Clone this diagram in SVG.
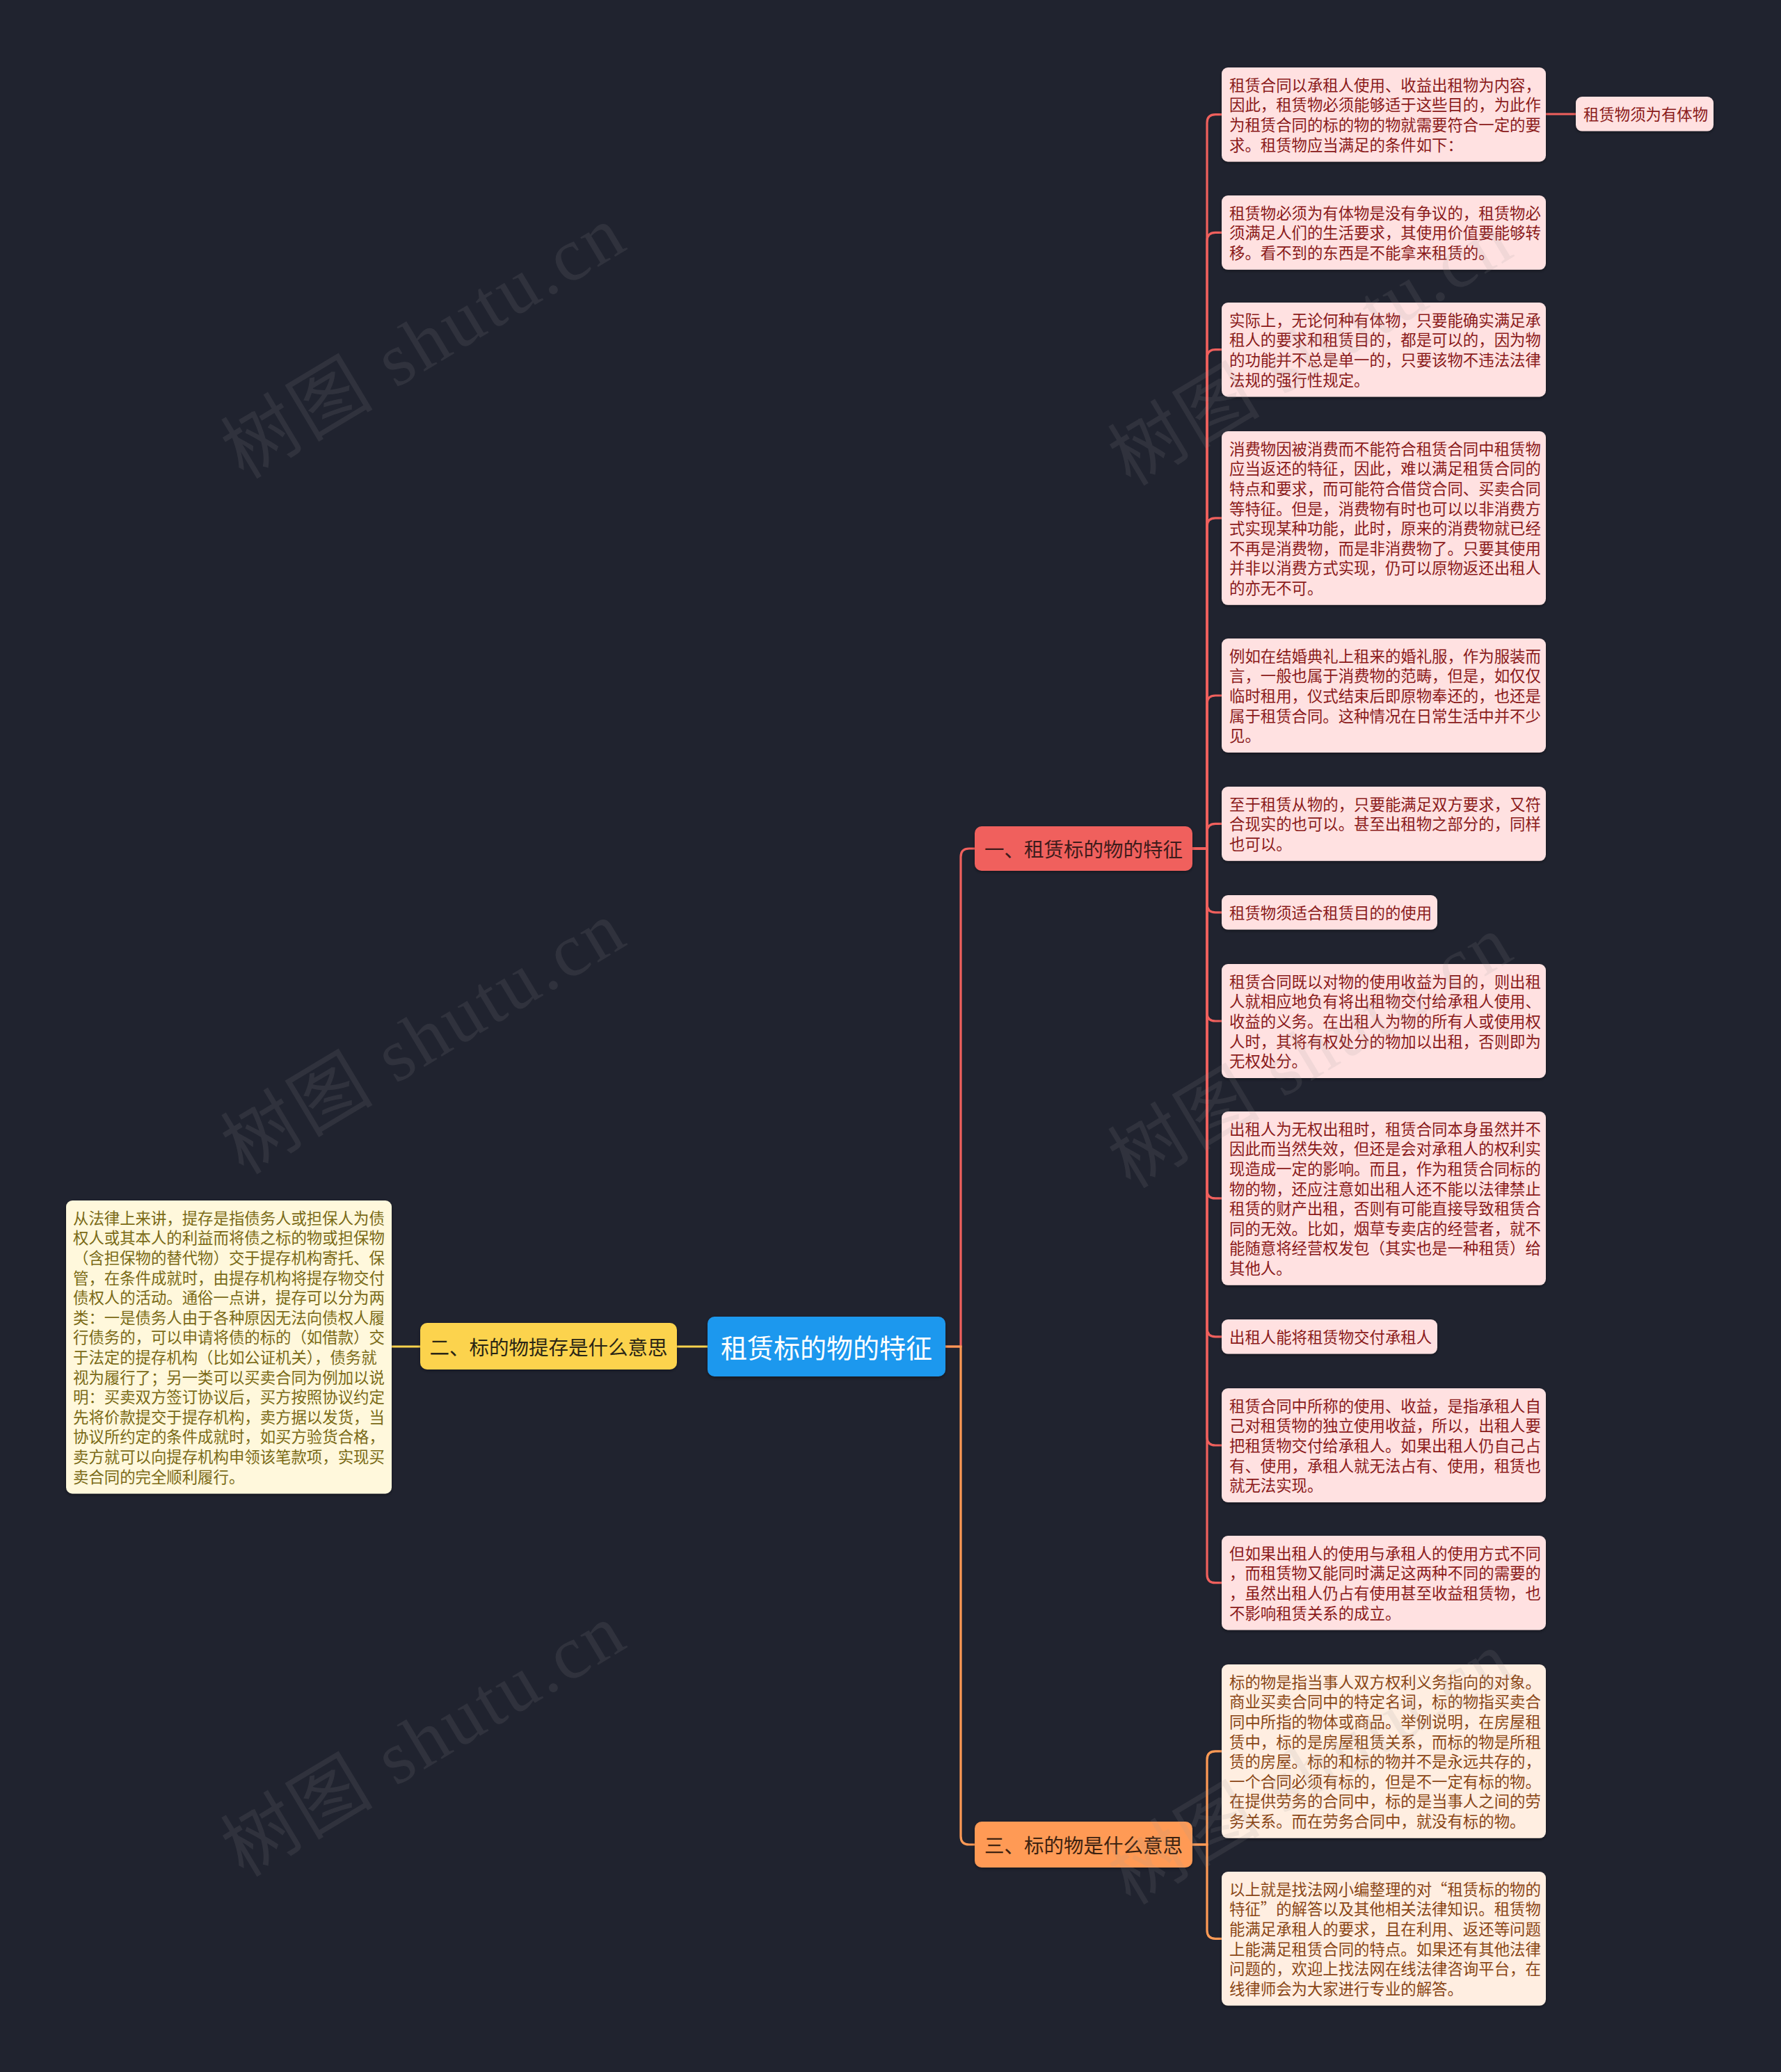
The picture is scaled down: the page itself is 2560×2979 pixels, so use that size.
<svg xmlns="http://www.w3.org/2000/svg" width="2560" height="2979" viewBox="0 0 2560 2979">
<defs>
<filter id="sh" x="-5%" y="-5%" width="110%" height="120%">
<feDropShadow dx="0" dy="2" stdDeviation="2" flood-color="#000" flood-opacity="0.35"/>
</filter>
<style>
text{font-family:"Noto Sans CJK SC","Noto Sans",sans-serif;dominant-baseline:central}
.leaf text{font-size:22.4px}
.r rect{fill:#FFE1E1}
.r text{fill:#8A1A1A}
.y rect{fill:#FFF8DC}
.y text{fill:#7A6A16}
.o rect{fill:#FFEEE1}
.o text{fill:#8A4616}
.br text{font-size:28.5px;text-anchor:middle}
.c{fill:none;stroke-width:3.2;stroke-linecap:round}
.cr{stroke:#F0605D}
.cy{stroke:#FCD34D}
.co{stroke:#FF9A55}
.wm{font-family:"Liberation Serif","Noto Sans CJK SC",serif;font-size:108px;letter-spacing:4px;fill:#9a9a9a;opacity:0.13;dominant-baseline:alphabetic}
</style>
</defs>
<rect width="2560" height="2979" fill="#20232F"/>

<g id="connectors">
<path class="c cr" d="M1359 1936 H1381 V1232 Q1381 1220 1393 1220 H1401"/>
<path class="c co" d="M1359 1936 H1381 V2640 Q1381 2652 1393 2652 H1401"/>
<path class="c cy" d="M1017 1936 H973"/>
<path class="c cy" d="M604 1936 H563"/>
<path class="c cr" d="M1714 1220 H1735 V176.7 Q1735 164.7 1747 164.7 H1756"/>
<path class="c cr" d="M1714 1220 H1735 V346.4 Q1735 334.4 1747 334.4 H1756"/>
<path class="c cr" d="M1714 1220 H1735 V514.7 Q1735 502.7 1747 502.7 H1756"/>
<path class="c cr" d="M1714 1220 H1735 V756.9 Q1735 744.9 1747 744.9 H1756"/>
<path class="c cr" d="M1714 1220 H1735 V1012 Q1735 1000 1747 1000 H1756"/>
<path class="c cr" d="M1714 1220 H1735 V1196.4 Q1735 1184.4 1747 1184.4 H1756"/>
<path class="c cr" d="M1714 1220 H1735 V1299.8 Q1735 1311.8 1747 1311.8 H1756"/>
<path class="c cr" d="M1714 1220 H1735 V1456 Q1735 1468 1747 1468 H1756"/>
<path class="c cr" d="M1714 1220 H1735 V1710.9 Q1735 1722.9 1747 1722.9 H1756"/>
<path class="c cr" d="M1714 1220 H1735 V1909.8 Q1735 1921.8 1747 1921.8 H1756"/>
<path class="c cr" d="M1714 1220 H1735 V2066 Q1735 2078 1747 2078 H1756"/>
<path class="c cr" d="M1714 1220 H1735 V2263.7 Q1735 2275.7 1747 2275.7 H1756"/>
<path class="c cr" d="M2222 164 H2265"/>
<path class="c co" d="M1714 2652 H1735 V2529.9 Q1735 2517.9 1747 2517.9 H1756"/>
<path class="c co" d="M1714 2652 H1735 V2775.3 Q1735 2787.3 1747 2787.3 H1756"/>
</g>

<g id="center">
<rect x="1017" y="1893" width="342" height="86" rx="10" fill="#1D98EE" filter="url(#sh)"/>
<text x="1188" y="1935" font-size="38" fill="#FFFFFF" text-anchor="middle">租赁标的物的特征</text>
</g>

<g id="branch1" class="br">
<rect x="1401" y="1188" width="313" height="64" rx="10" fill="#F0605D" filter="url(#sh)"/>
<text x="1557.5" y="1219" fill="#3E1B1B">一、租赁标的物的特征</text>
</g>
<g id="branch2" class="br">
<rect x="604" y="1902" width="369" height="67" rx="10" fill="#FCD34D" filter="url(#sh)"/>
<text x="788.5" y="1935" fill="#2A2615">二、标的物提存是什么意思</text>
</g>
<g id="branch3" class="br">
<rect x="1401" y="2619" width="313" height="66" rx="10" fill="#FF9A55" filter="url(#sh)"/>
<text x="1557.5" y="2651" fill="#3D2210">三、标的物是什么意思</text>
</g>

<g id="leaf-left" class="leaf y">
<rect x="95" y="1726" width="468" height="421.4" rx="9" filter="url(#sh)"/>
<text><tspan x="105" y="1749.8">从法律上来讲，提存是指债务人或担保人为债</tspan><tspan x="105" y="1778.4">权人或其本人的利益而将债之标的物或担保物</tspan><tspan x="105" y="1807">（含担保物的替代物）交于提存机构寄托、保</tspan><tspan x="105" y="1835.6">管，在条件成就时，由提存机构将提存物交付</tspan><tspan x="105" y="1864.2">债权人的活动。通俗一点讲，提存可以分为两</tspan><tspan x="105" y="1892.8">类：一是债务人由于各种原因无法向债权人履</tspan><tspan x="105" y="1921.4">行债务的，可以申请将债的标的（如借款）交</tspan><tspan x="105" y="1950">于法定的提存机构（比如公证机关），债务就</tspan><tspan x="105" y="1978.6">视为履行了；另一类可以买卖合同为例加以说</tspan><tspan x="105" y="2007.2">明：买卖双方签订协议后，买方按照协议约定</tspan><tspan x="105" y="2035.8">先将价款提交于提存机构，卖方据以发货，当</tspan><tspan x="105" y="2064.4">协议所约定的条件成就时，如买方验货合格，</tspan><tspan x="105" y="2093">卖方就可以向提存机构申领该笔款项，实现买</tspan><tspan x="105" y="2121.6">卖合同的完全顺利履行。</tspan></text>
</g>

<g id="leaf-r1" class="leaf r">
<rect x="1756" y="97" width="466" height="135.4" rx="9" filter="url(#sh)"/>
<text><tspan x="1767" y="120.8">租赁合同以承租人使用、收益出租物为内容，</tspan><tspan x="1767" y="149.4">因此，租赁物必须能够适于这些目的，为此作</tspan><tspan x="1767" y="178">为租赁合同的标的物的物就需要符合一定的要</tspan><tspan x="1767" y="206.6">求。租赁物应当满足的条件如下：</tspan></text>
</g>
<g id="leaf-r1a" class="leaf r">
<rect x="2265" y="139" width="198" height="49.6" rx="9" filter="url(#sh)"/>
<text x="2276" y="162.8">租赁物须为有体物</text>
</g>
<g id="leaf-r2" class="leaf r">
<rect x="1756" y="281" width="466" height="106.8" rx="9" filter="url(#sh)"/>
<text><tspan x="1767" y="304.8">租赁物必须为有体物是没有争议的，租赁物必</tspan><tspan x="1767" y="333.4">须满足人们的生活要求，其使用价值要能够转</tspan><tspan x="1767" y="362">移。看不到的东西是不能拿来租赁的。</tspan></text>
</g>
<g id="leaf-r3" class="leaf r">
<rect x="1756" y="435" width="466" height="135.4" rx="9" filter="url(#sh)"/>
<text><tspan x="1767" y="458.8">实际上，无论何种有体物，只要能确实满足承</tspan><tspan x="1767" y="487.4">租人的要求和租赁目的，都是可以的，因为物</tspan><tspan x="1767" y="516">的功能并不总是单一的，只要该物不违法法律</tspan><tspan x="1767" y="544.6">法规的强行性规定。</tspan></text>
</g>
<g id="leaf-r4" class="leaf r">
<rect x="1756" y="620" width="466" height="249.8" rx="9" filter="url(#sh)"/>
<text><tspan x="1767" y="643.8">消费物因被消费而不能符合租赁合同中租赁物</tspan><tspan x="1767" y="672.4">应当返还的特征，因此，难以满足租赁合同的</tspan><tspan x="1767" y="701">特点和要求，而可能符合借贷合同、买卖合同</tspan><tspan x="1767" y="729.6">等特征。但是，消费物有时也可以以非消费方</tspan><tspan x="1767" y="758.2">式实现某种功能，此时，原来的消费物就已经</tspan><tspan x="1767" y="786.8">不再是消费物，而是非消费物了。只要其使用</tspan><tspan x="1767" y="815.4">并非以消费方式实现，仍可以原物返还出租人</tspan><tspan x="1767" y="844">的亦无不可。</tspan></text>
</g>
<g id="leaf-r5" class="leaf r">
<rect x="1756" y="918" width="466" height="164" rx="9" filter="url(#sh)"/>
<text><tspan x="1767" y="941.8">例如在结婚典礼上租来的婚礼服，作为服装而</tspan><tspan x="1767" y="970.4">言，一般也属于消费物的范畴，但是，如仅仅</tspan><tspan x="1767" y="999">临时租用，仪式结束后即原物奉还的，也还是</tspan><tspan x="1767" y="1027.6">属于租赁合同。这种情况在日常生活中并不少</tspan><tspan x="1767" y="1056.2">见。</tspan></text>
</g>
<g id="leaf-r6" class="leaf r">
<rect x="1756" y="1131" width="466" height="106.8" rx="9" filter="url(#sh)"/>
<text><tspan x="1767" y="1154.8">至于租赁从物的，只要能满足双方要求，又符</tspan><tspan x="1767" y="1183.4">合现实的也可以。甚至出租物之部分的，同样</tspan><tspan x="1767" y="1212">也可以。</tspan></text>
</g>
<g id="leaf-r7" class="leaf r">
<rect x="1756" y="1287" width="310" height="49.6" rx="9" filter="url(#sh)"/>
<text x="1767" y="1310.8">租赁物须适合租赁目的的使用</text>
</g>
<g id="leaf-r8" class="leaf r">
<rect x="1756" y="1386" width="466" height="164" rx="9" filter="url(#sh)"/>
<text><tspan x="1767" y="1409.8">租赁合同既以对物的使用收益为目的，则出租</tspan><tspan x="1767" y="1438.4">人就相应地负有将出租物交付给承租人使用、</tspan><tspan x="1767" y="1467">收益的义务。在出租人为物的所有人或使用权</tspan><tspan x="1767" y="1495.6">人时，其将有权处分的物加以出租，否则即为</tspan><tspan x="1767" y="1524.2">无权处分。</tspan></text>
</g>
<g id="leaf-r9" class="leaf r">
<rect x="1756" y="1598" width="466" height="249.8" rx="9" filter="url(#sh)"/>
<text><tspan x="1767" y="1621.8">出租人为无权出租时，租赁合同本身虽然并不</tspan><tspan x="1767" y="1650.4">因此而当然失效，但还是会对承租人的权利实</tspan><tspan x="1767" y="1679">现造成一定的影响。而且，作为租赁合同标的</tspan><tspan x="1767" y="1707.6">物的物，还应注意如出租人还不能以法律禁止</tspan><tspan x="1767" y="1736.2">租赁的财产出租，否则有可能直接导致租赁合</tspan><tspan x="1767" y="1764.8">同的无效。比如，烟草专卖店的经营者，就不</tspan><tspan x="1767" y="1793.4">能随意将经营权发包（其实也是一种租赁）给</tspan><tspan x="1767" y="1822">其他人。</tspan></text>
</g>
<g id="leaf-r10" class="leaf r">
<rect x="1756" y="1897" width="310" height="49.6" rx="9" filter="url(#sh)"/>
<text x="1767" y="1920.8">出租人能将租赁物交付承租人</text>
</g>
<g id="leaf-r11" class="leaf r">
<rect x="1756" y="1996" width="466" height="164" rx="9" filter="url(#sh)"/>
<text><tspan x="1767" y="2019.8">租赁合同中所称的使用、收益，是指承租人自</tspan><tspan x="1767" y="2048.4">己对租赁物的独立使用收益，所以，出租人要</tspan><tspan x="1767" y="2077">把租赁物交付给承租人。如果出租人仍自己占</tspan><tspan x="1767" y="2105.6">有、使用，承租人就无法占有、使用，租赁也</tspan><tspan x="1767" y="2134.2">就无法实现。</tspan></text>
</g>
<g id="leaf-r12" class="leaf r">
<rect x="1756" y="2208" width="466" height="135.4" rx="9" filter="url(#sh)"/>
<text><tspan x="1767" y="2231.8">但如果出租人的使用与承租人的使用方式不同</tspan><tspan x="1767" y="2260.4">，而租赁物又能同时满足这两种不同的需要的</tspan><tspan x="1767" y="2289">，虽然出租人仍占有使用甚至收益租赁物，也</tspan><tspan x="1767" y="2317.6">不影响租赁关系的成立。</tspan></text>
</g>
<g id="leaf-o1" class="leaf o">
<rect x="1756" y="2393" width="466" height="249.8" rx="9" filter="url(#sh)"/>
<text><tspan x="1767" y="2416.8">标的物是指当事人双方权利义务指向的对象。</tspan><tspan x="1767" y="2445.4">商业买卖合同中的特定名词，标的物指买卖合</tspan><tspan x="1767" y="2474">同中所指的物体或商品。举例说明，在房屋租</tspan><tspan x="1767" y="2502.6">赁中，标的是房屋租赁关系，而标的物是所租</tspan><tspan x="1767" y="2531.2">赁的房屋。标的和标的物并不是永远共存的，</tspan><tspan x="1767" y="2559.8">一个合同必须有标的，但是不一定有标的物。</tspan><tspan x="1767" y="2588.4">在提供劳务的合同中，标的是当事人之间的劳</tspan><tspan x="1767" y="2617">务关系。而在劳务合同中，就没有标的物。</tspan></text>
</g>
<g id="leaf-o2" class="leaf o">
<rect x="1756" y="2691" width="466" height="192.6" rx="9" filter="url(#sh)"/>
<text><tspan x="1767" y="2714.8">以上就是找法网小编整理的对“租赁标的物的</tspan><tspan x="1767" y="2743.4">特征”的解答以及其他相关法律知识。租赁物</tspan><tspan x="1767" y="2772">能满足承租人的要求，且在利用、返还等问题</tspan><tspan x="1767" y="2800.6">上能满足租赁合同的特点。如果还有其他法律</tspan><tspan x="1767" y="2829.2">问题的，欢迎上找法网在线法律咨询平台，在</tspan><tspan x="1767" y="2857.8">线律师会为大家进行专业的解答。</tspan></text>
</g>

<g id="watermark">
<text class="wm" transform="translate(350 690) rotate(-31)">树图 shutu.cn</text>
<text class="wm" transform="translate(350 1690) rotate(-31)">树图 shutu.cn</text>
<text class="wm" transform="translate(350 2700) rotate(-31)">树图 shutu.cn</text>
<text class="wm" transform="translate(1625 700) rotate(-31)">树图 shutu.cn</text>
<text class="wm" transform="translate(1625 1710) rotate(-31)">树图 shutu.cn</text>
<text class="wm" transform="translate(1625 2740) rotate(-31)">树图 shutu.cn</text>
</g>
</svg>
